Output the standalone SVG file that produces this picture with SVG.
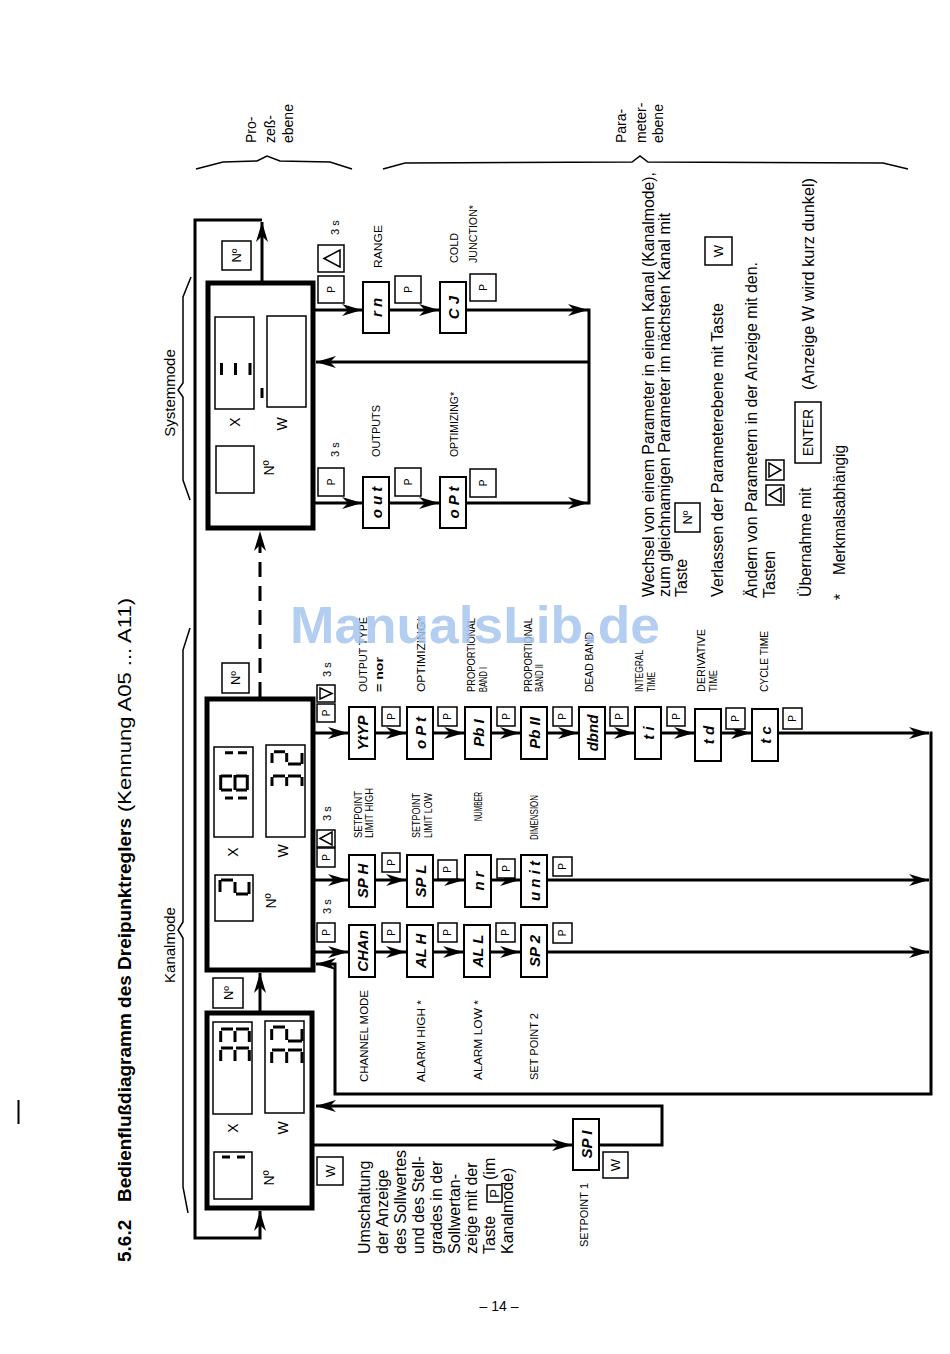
<svg xmlns="http://www.w3.org/2000/svg" width="950" height="1354" viewBox="0 0 950 1354">
<defs>
<style>
text{font-family:"Liberation Sans",Arial,"DejaVu Sans",sans-serif;fill:#000}
.ln{fill:none;stroke:#000;stroke-width:3}
.ar{marker-end:url(#ah)}
.dash{stroke-dasharray:15 9}
.br{fill:none;stroke:#000;stroke-width:1.5}
.disp{fill:#fff;stroke:#000;stroke-width:5}
.win{fill:#fff;stroke:#000;stroke-width:1.5}
.par{fill:#fff;stroke:#000;stroke-width:2}
.key{fill:#fff;stroke:#000;stroke-width:1.5}
.seg{fill:none;stroke:#000;stroke-width:3}
.tri{fill:none;stroke:#000;stroke-width:1.5}
.code{font-size:15px;font-weight:bold;font-style:italic;text-anchor:middle}
.lab{font-size:11px}
.k{font-size:10px;text-anchor:middle}
.kb{font-size:13px;text-anchor:middle}
.dl{font-size:14px;text-anchor:middle}
.body{font-size:16px}
.mode{font-size:15px;text-anchor:middle}
.lvl{font-size:14px}
</style>
<marker id="ah" viewBox="0 0 20 12" refX="20" refY="6" markerWidth="20" markerHeight="12" markerUnits="userSpaceOnUse" orient="auto"><path d="M0,0 L20,6 L0,12 L6,6 Z" fill="#000"/></marker>
</defs>
<rect x="0" y="0" width="950" height="1354" fill="#fff"/>

<!-- title -->
<g id="title">
<text transform="translate(131 1262) rotate(-90)" font-size="19" font-weight="bold">5.6.2</text>
<text transform="translate(131 1202) rotate(-90)" font-size="19" font-weight="bold" textLength="384" lengthAdjust="spacingAndGlyphs">Bedienflußdiagramm des Dreipunktreglers</text>
<text transform="translate(131 812) rotate(-90)" font-size="19" textLength="214" lengthAdjust="spacingAndGlyphs">(Kennung A05 ... A11)</text>
</g>
<line x1="18.5" y1="1100" x2="18.5" y2="1124" stroke="#000" stroke-width="2"/>

<!-- braces and level labels -->
<g id="braces">
<path class="br" d="M196,169 L223,162 L257,161 L267,156 L280,161 L330,162 L352,169"/>
<path class="br" d="M383,169 L405,163 L632,162 L640,156 L648,162 L883,163 L908,169"/>
<path class="br" d="M191,277 L183,297 L183,383 L178,390 L183,397 L183,480 L190,500"/>
<path class="br" d="M190,628 L183,650 L183,922 L178,930 L183,938 L183,1187 L188,1213"/>
<text class="lvl" transform="translate(256 143) rotate(-90)">Pro-</text>
<text class="lvl" transform="translate(275 143) rotate(-90)">zeß-</text>
<text class="lvl" transform="translate(293 143) rotate(-90)">ebene</text>
<text class="lvl" transform="translate(626 143) rotate(-90)">Para-</text>
<text class="lvl" transform="translate(646 143) rotate(-90)">meter-</text>
<text class="lvl" transform="translate(663 143) rotate(-90)">ebene</text>
<text class="mode" transform="translate(175 393) rotate(-90)">Systemmode</text>
<text class="mode" transform="translate(175 945) rotate(-90)">Kanalmode</text>
</g>

<!-- connectors -->
<g id="connectors">
<path class="ln ar" d="M262,220 H195 V1238 H260 V1211"/>
<path class="ln ar" d="M262,281 V222"/>
<path class="ln ar" d="M260,1011 V973"/>
<path class="ln ar dash" d="M260,697 V531"/>
<path class="ln ar" d="M315,310 H362"/>
<path class="ln ar" d="M389,310 H439"/>
<path class="ln ar" d="M466,310 H588"/>
<path class="ln" d="M589,308.5 V504.5"/>
<path class="ln ar" d="M589,362 H316"/>
<path class="ln ar" d="M315,503 H362"/>
<path class="ln ar" d="M389,503 H439"/>
<path class="ln ar" d="M466,503 H588"/>
<path class="ln ar" d="M315,733 H348"/>
<path class="ln ar" d="M375,733 H406"/>
<path class="ln ar" d="M433,733 H464"/>
<path class="ln ar" d="M491,733 H520"/>
<path class="ln ar" d="M547,733 H578"/>
<path class="ln ar" d="M605,733 H634"/>
<path class="ln ar" d="M661,733 H694"/>
<path class="ln ar" d="M721,733 H751"/>
<path class="ln ar" d="M778,733 H929"/>
<path class="ln ar" d="M315,880 H348"/>
<path class="ln ar" d="M375,880 H406"/>
<path class="ln ar" d="M433,880 H464"/>
<path class="ln ar" d="M491,880 H520"/>
<path class="ln ar" d="M547,880 H929"/>
<path class="ln ar" d="M315,952 H348"/>
<path class="ln ar" d="M375,952 H406"/>
<path class="ln ar" d="M433,952 H463"/>
<path class="ln ar" d="M490,952 H520"/>
<path class="ln ar" d="M547,952 H929"/>
<path class="ln ar" d="M931,731.5 V1094 H335 V964 H316"/>
<path class="ln ar" d="M314,1145 H572"/>
<path class="ln ar" d="M599,1145 H662 V1106 H316"/>
</g>

<!-- system display -->
<g id="sys-display">
<rect class="disp" x="208" y="283" width="105" height="245"/>
<rect class="win" x="215" y="317" width="39" height="92"/>
<rect class="win" x="267" y="316" width="39" height="91"/>
<rect class="win" x="216" y="446" width="38" height="47"/>
<path class="seg" stroke-width="3.5" d="M221.5,363V375 M235.5,363V375 M250,363V375 M262,388V398"/>
<text class="dl" transform="translate(240 422) rotate(-90)">X</text>
<text class="dl" transform="translate(287 424) rotate(-90)">W</text>
<text class="dl" transform="translate(274 468) rotate(-90)">Nº</text>
</g>
<g id="key-sys-no"><rect class="key" x="222" y="241" width="29" height="29"/><text class="kb" transform="translate(241 255.5) rotate(-90)">Nº</text></g>

<!-- system row A -->
<g id="key-sys-a-p"><rect class="key" x="318" y="276" width="26" height="27"/><text class="k" transform="translate(334.6 289.5) rotate(-90)">P</text></g>
<g id="key-sys-a-up"><rect class="key" x="318" y="245" width="26" height="27"/><polygon class="tri" points="324,258.5 340,250 340,267"/></g>
<text class="lab" transform="translate(339 235) rotate(-90)">3 s</text>
<g id="p-rn"><rect class="par" x="363" y="282" width="26" height="51"/><text class="code" transform="translate(381.5 307.5) rotate(-90)">r n</text></g>
<text class="lab" transform="translate(382 268) rotate(-90)" textLength="43" lengthAdjust="spacingAndGlyphs">RANGE</text>
<g id="key-rn-p"><rect class="key" x="395" y="276" width="26" height="27"/><text class="k" transform="translate(411.6 289.5) rotate(-90)">P</text></g>
<g id="p-cj"><rect class="par" x="440" y="282" width="26" height="51"/><text class="code" transform="translate(458.5 307.5) rotate(-90)" font-style="normal">C J</text></g>
<text class="lab" transform="translate(458 263) rotate(-90)" textLength="30" lengthAdjust="spacingAndGlyphs">COLD</text>
<text class="lab" transform="translate(477 263) rotate(-90)" textLength="58" lengthAdjust="spacingAndGlyphs">JUNCTION*</text>
<g id="key-cj-p"><rect class="key" x="470" y="274" width="26" height="27"/><text class="k" transform="translate(486.6 287.5) rotate(-90)">P</text></g>

<!-- system row B -->
<g id="key-sys-b-p"><rect class="key" x="318" y="468" width="26" height="28"/><text class="k" transform="translate(334.6 482) rotate(-90)">P</text></g>
<text class="lab" transform="translate(339 457) rotate(-90)">3 s</text>
<g id="p-out"><rect class="par" x="363" y="477" width="26" height="51"/><text class="code" transform="translate(381.5 502.5) rotate(-90)">o u t</text></g>
<text class="lab" transform="translate(380 457) rotate(-90)" textLength="52" lengthAdjust="spacingAndGlyphs">OUTPUTS</text>
<g id="key-out-p"><rect class="key" x="395" y="468" width="26" height="28"/><text class="k" transform="translate(411.6 482) rotate(-90)">P</text></g>
<g id="p-opt-sys"><rect class="par" x="440" y="477" width="26" height="51"/><text class="code" transform="translate(458.5 502.5) rotate(-90)">o P t</text></g>
<text class="lab" transform="translate(458 457) rotate(-90)" textLength="65" lengthAdjust="spacingAndGlyphs">OPTIMIZING*</text>
<g id="key-optsys-p"><rect class="key" x="470" y="469" width="26" height="28"/><text class="k" transform="translate(486.6 483) rotate(-90)">P</text></g>

<!-- channel display 2 -->
<g id="kanal-display">
<rect class="disp" x="207" y="699" width="106" height="271"/>
<rect class="win" x="214" y="747" width="39" height="90"/>
<rect class="win" x="266" y="745" width="39" height="92"/>
<rect class="win" x="215" y="875" width="38" height="46"/>
<path class="seg" d="M225,752.7H233 M238,752.7H247 M220.7,775V790 M235,775V790 M247.3,775V790 M221,776H232 M236,776H247 M221,790H232 M236,790H247 M225,798H233 M238,798H247"/>
<path class="seg" d="M272,753V763 M274,751.7H285 M286.7,753V762 M288,764H301 M302,753V764 M273,776H285 M288,776H301 M272,777V786 M286.7,777V786 M302,777V786"/>
<path class="seg" d="M220,880V892 M221,880H233 M235,882V893 M236,894H248 M249,882V894"/>
<text class="dl" transform="translate(238 852) rotate(-90)">X</text>
<text class="dl" transform="translate(288 851) rotate(-90)">W</text>
<text class="dl" transform="translate(276 901) rotate(-90)">Nº</text>
</g>
<g id="key-k2-no"><rect class="key" x="222" y="663" width="27" height="30"/><text class="kb" transform="translate(240 678) rotate(-90)">Nº</text></g>

<!-- channel display 1 -->
<g id="basic-display">
<rect class="disp" x="207" y="1013" width="105" height="195"/>
<rect class="win" x="213" y="1022" width="39" height="92"/>
<rect class="win" x="265" y="1021" width="39" height="92"/>
<rect class="win" x="214" y="1152" width="38" height="47"/>
<path class="seg" d="M221,1029H233 M236,1029H249 M220.7,1031V1042 M235,1031V1042 M249.3,1031V1042 M221,1048H233 M236,1048H249 M220.7,1050V1061 M235,1050V1061 M249.3,1050V1061"/>
<path class="seg" d="M271.7,1029V1040 M273,1027H285 M286.7,1029V1040 M288,1041H302 M302,1029V1041 M272,1050H285 M288,1050H302 M271.7,1052V1063 M286.7,1052V1063 M302,1052V1063"/>
<path class="seg" d="M222,1157H230 M237,1157H245"/>
<text class="dl" transform="translate(238 1128) rotate(-90)">X</text>
<text class="dl" transform="translate(288 1128) rotate(-90)">W</text>
<text class="dl" transform="translate(274 1178) rotate(-90)">Nº</text>
</g>
<g id="key-k1-no"><rect class="key" x="213" y="978" width="30" height="30"/><text class="kb" transform="translate(232.7 993) rotate(-90)">Nº</text></g>
<g id="key-k1-w"><rect class="key" x="317" y="1157" width="26" height="28"/><text class="kb" transform="translate(334.7 1171) rotate(-90)">W</text></g>

<!-- row 1 (controller parameters) -->
<g id="key-r1-p0"><rect class="key" x="317" y="704" width="18" height="18"/><text class="k" transform="translate(329.6 713) rotate(-90)">P</text></g>
<g id="key-r1-down"><rect class="key" x="317" y="685" width="18" height="17"/><polygon class="tri" points="320,688 320,699 332,693.5"/></g>
<text class="lab" transform="translate(331 677) rotate(-90)">3 s</text>
<g id="p-ytyp"><rect class="par" x="349" y="707" width="26" height="52"/><text class="code" transform="translate(367.5 733) rotate(-90)" font-style="normal">YtYP</text></g>
<text class="lab" transform="translate(367 692) rotate(-90)" textLength="75" lengthAdjust="spacingAndGlyphs">OUTPUT TYPE</text>
<text class="lab" transform="translate(383 692) rotate(-90)" font-weight="bold" textLength="35" lengthAdjust="spacingAndGlyphs">= nor</text>
<g id="key-r1-p1"><rect class="key" x="382" y="707" width="18" height="19"/><text class="k" transform="translate(394.6 716.5) rotate(-90)">P</text></g>
<g id="p-opt"><rect class="par" x="407" y="707" width="26" height="52"/><text class="code" transform="translate(425.5 733) rotate(-90)">o P t</text></g>
<text class="lab" transform="translate(425 692) rotate(-90)" textLength="75" lengthAdjust="spacingAndGlyphs">OPTIMIZING*</text>
<g id="key-r1-p2"><rect class="key" x="438" y="707" width="19" height="19"/><text class="k" transform="translate(451.1 716.5) rotate(-90)">P</text></g>
<g id="p-pb1"><rect class="par" x="465" y="707" width="26" height="52"/><text class="code" transform="translate(483.5 733) rotate(-90)">Pb I</text></g>
<text class="lab" transform="translate(475 692) rotate(-90)" textLength="74" lengthAdjust="spacingAndGlyphs">PROPORTIONAL</text>
<text class="lab" transform="translate(487 692) rotate(-90)" textLength="25" lengthAdjust="spacingAndGlyphs">BAND I</text>
<g id="key-r1-p3"><rect class="key" x="497" y="707" width="18" height="19"/><text class="k" transform="translate(509.6 716.5) rotate(-90)">P</text></g>
<g id="p-pb2"><rect class="par" x="521" y="707" width="26" height="52"/><text class="code" transform="translate(539.5 733) rotate(-90)">Pb II</text></g>
<text class="lab" transform="translate(532 692) rotate(-90)" textLength="74" lengthAdjust="spacingAndGlyphs">PROPORTIONAL</text>
<text class="lab" transform="translate(543 692) rotate(-90)" textLength="28" lengthAdjust="spacingAndGlyphs">BAND II</text>
<g id="key-r1-p4"><rect class="key" x="553" y="707" width="19" height="19"/><text class="k" transform="translate(566.1 716.5) rotate(-90)">P</text></g>
<g id="p-dbnd"><rect class="par" x="579" y="707" width="26" height="52"/><text class="code" transform="translate(597.5 733) rotate(-90)">dbnd</text></g>
<text class="lab" transform="translate(593 692) rotate(-90)" textLength="60" lengthAdjust="spacingAndGlyphs">DEAD BAND</text>
<g id="key-r1-p5"><rect class="key" x="610" y="707" width="18" height="19"/><text class="k" transform="translate(622.6 716.5) rotate(-90)">P</text></g>
<g id="p-ti"><rect class="par" x="635" y="707" width="26" height="52"/><text class="code" transform="translate(653.5 733) rotate(-90)">t i</text></g>
<text class="lab" transform="translate(643 692) rotate(-90)" textLength="42" lengthAdjust="spacingAndGlyphs">INTEGRAL</text>
<text class="lab" transform="translate(655 692) rotate(-90)" textLength="20" lengthAdjust="spacingAndGlyphs">TIME</text>
<g id="key-r1-p6"><rect class="key" x="667" y="707" width="18" height="19"/><text class="k" transform="translate(679.6 716.5) rotate(-90)">P</text></g>
<g id="p-td"><rect class="par" x="695" y="709" width="26" height="52"/><text class="code" transform="translate(713.5 735) rotate(-90)">t d</text></g>
<text class="lab" transform="translate(705 692) rotate(-90)" textLength="63" lengthAdjust="spacingAndGlyphs">DERIVATIVE</text>
<text class="lab" transform="translate(717 692) rotate(-90)" textLength="22" lengthAdjust="spacingAndGlyphs">TIME</text>
<g id="key-r1-p7"><rect class="key" x="726" y="708" width="19" height="21"/><text class="k" transform="translate(739.1 718.5) rotate(-90)">P</text></g>
<g id="p-tc"><rect class="par" x="752" y="709" width="26" height="52"/><text class="code" transform="translate(770.5 735) rotate(-90)">t c</text></g>
<text class="lab" transform="translate(768 692) rotate(-90)" textLength="61" lengthAdjust="spacingAndGlyphs">CYCLE TIME</text>
<g id="key-r1-p8"><rect class="key" x="783" y="708" width="19" height="21"/><text class="k" transform="translate(796.1 718.5) rotate(-90)">P</text></g>

<!-- row 2 (setpoint parameters) -->
<g id="key-r2-p0"><rect class="key" x="317" y="848" width="18" height="19"/><text class="k" transform="translate(329.6 857.5) rotate(-90)">P</text></g>
<g id="key-r2-up"><rect class="key" x="317" y="830" width="18" height="17"/><polygon class="tri" points="320,838.5 332,832 332,845"/></g>
<text class="lab" transform="translate(331 821) rotate(-90)">3 s</text>
<g id="p-sph"><rect class="par" x="349" y="855" width="26" height="52"/><text class="code" transform="translate(367.5 881) rotate(-90)">SP H</text></g>
<text class="lab" transform="translate(362 838) rotate(-90)" textLength="47" lengthAdjust="spacingAndGlyphs">SETPOINT</text>
<text class="lab" transform="translate(373 838) rotate(-90)" textLength="50" lengthAdjust="spacingAndGlyphs">LIMIT HIGH</text>
<g id="key-r2-p1"><rect class="key" x="382" y="853" width="18" height="19"/><text class="k" transform="translate(394.6 862.5) rotate(-90)">P</text></g>
<g id="p-spl"><rect class="par" x="407" y="855" width="26" height="52"/><text class="code" transform="translate(425.5 881) rotate(-90)">SP L</text></g>
<text class="lab" transform="translate(420 838) rotate(-90)" textLength="45" lengthAdjust="spacingAndGlyphs">SETPOINT</text>
<text class="lab" transform="translate(432 838) rotate(-90)" textLength="45" lengthAdjust="spacingAndGlyphs">LIMIT LOW</text>
<g id="key-r2-p2"><rect class="key" x="438" y="860" width="19" height="19"/><text class="k" transform="translate(451.1 869.5) rotate(-90)">P</text></g>
<g id="p-nr"><rect class="par" x="465" y="855" width="26" height="52"/><text class="code" transform="translate(483.5 881) rotate(-90)">n r</text></g>
<text class="lab" transform="translate(482 821) rotate(-90)" textLength="29" lengthAdjust="spacingAndGlyphs">NUMBER</text>
<g id="key-r2-p3"><rect class="key" x="497" y="859" width="18" height="19"/><text class="k" transform="translate(509.6 868.5) rotate(-90)">P</text></g>
<g id="p-unit"><rect class="par" x="521" y="855" width="26" height="52"/><text class="code" transform="translate(539.5 881) rotate(-90)">u n i t</text></g>
<text class="lab" transform="translate(538 840) rotate(-90)" textLength="45" lengthAdjust="spacingAndGlyphs">DIMENSION</text>
<g id="key-r2-p4"><rect class="key" x="553" y="857" width="19" height="19"/><text class="k" transform="translate(566.1 866.5) rotate(-90)">P</text></g>

<!-- row 3 (channel parameters) -->
<g id="key-r3-p0"><rect class="key" x="317" y="923" width="18" height="19"/><text class="k" transform="translate(329.6 932.5) rotate(-90)">P</text></g>
<text class="lab" transform="translate(331 914) rotate(-90)">3 s</text>
<g id="p-chan"><rect class="par" x="349" y="925" width="26" height="52"/><text class="code" transform="translate(367.5 951) rotate(-90)">CHAn</text></g>
<text class="lab" transform="translate(368 1082) rotate(-90)" textLength="92" lengthAdjust="spacingAndGlyphs">CHANNEL MODE</text>
<g id="key-r3-p1"><rect class="key" x="382" y="923" width="18" height="19"/><text class="k" transform="translate(394.6 932.5) rotate(-90)">P</text></g>
<g id="p-alh"><rect class="par" x="407" y="925" width="26" height="52"/><text class="code" transform="translate(425.5 951) rotate(-90)">AL H</text></g>
<text class="lab" transform="translate(425 1082) rotate(-90)" textLength="82" lengthAdjust="spacingAndGlyphs">ALARM HIGH *</text>
<g id="key-r3-p2"><rect class="key" x="438" y="923" width="19" height="19"/><text class="k" transform="translate(451.1 932.5) rotate(-90)">P</text></g>
<g id="p-all"><rect class="par" x="464" y="925" width="26" height="52"/><text class="code" transform="translate(482.5 951) rotate(-90)">AL L</text></g>
<text class="lab" transform="translate(482 1080) rotate(-90)" textLength="80" lengthAdjust="spacingAndGlyphs">ALARM LOW *</text>
<g id="key-r3-p3"><rect class="key" x="496" y="923" width="19" height="19"/><text class="k" transform="translate(509.1 932.5) rotate(-90)">P</text></g>
<g id="p-sp2"><rect class="par" x="521" y="925" width="26" height="52"/><text class="code" transform="translate(539.5 951) rotate(-90)">SP 2</text></g>
<text class="lab" transform="translate(538 1080) rotate(-90)" textLength="67" lengthAdjust="spacingAndGlyphs">SET POINT 2</text>
<g id="key-r3-p4"><rect class="key" x="553" y="923" width="19" height="20"/><text class="k" transform="translate(566.1 933) rotate(-90)">P</text></g>

<!-- setpoint 1 -->
<g id="p-sp1"><rect class="par" x="573" y="1119" width="26" height="51"/><text class="code" transform="translate(591.5 1144.5) rotate(-90)">SP I</text></g>
<g id="key-sp1-w"><rect class="key" x="603" y="1152" width="25" height="26"/><text class="kb" transform="translate(620.2 1165) rotate(-90)">W</text></g>
<text class="lab" transform="translate(588 1247) rotate(-90)" textLength="64" lengthAdjust="spacingAndGlyphs">SETPOINT 1</text>

<!-- Umschaltung note -->
<g id="note-umschaltung">
<text class="body" transform="translate(370 1254) rotate(-90)">Umschaltung</text>
<text class="body" transform="translate(388 1254) rotate(-90)">der Anzeige</text>
<text class="body" transform="translate(406 1254) rotate(-90)">des Sollwertes</text>
<text class="body" transform="translate(424 1254) rotate(-90)">und des Stell-</text>
<text class="body" transform="translate(442 1254) rotate(-90)">grades in der</text>
<text class="body" transform="translate(460 1254) rotate(-90)">Sollwertan-</text>
<text class="body" transform="translate(477 1254) rotate(-90)">zeige mit der</text>
<text class="body" transform="translate(495 1254) rotate(-90)">Taste</text>
<rect class="key" x="487" y="1185" width="15" height="17"/>
<text class="kb" transform="translate(499 1193.5) rotate(-90)">P</text>
<text class="body" transform="translate(495 1180) rotate(-90)">(im</text>
<text class="body" transform="translate(513 1254) rotate(-90)">Kanalmode)</text>
</g>

<!-- legend -->
<g id="legend">
<text class="body" transform="translate(654 597) rotate(-90)" textLength="425" lengthAdjust="spacingAndGlyphs">Wechsel von einem Parameter in einem Kanal (Kanalmode),</text>
<text class="body" transform="translate(670 597) rotate(-90)" textLength="384" lengthAdjust="spacingAndGlyphs">zum gleichnamigen Parameter im nächsten Kanal mit</text>
<text class="body" transform="translate(687 597) rotate(-90)">Taste</text>
<rect class="key" x="675" y="503" width="25" height="29"/>
<text class="kb" transform="translate(692 517.5) rotate(-90)">Nº</text>
<text class="body" transform="translate(723 597) rotate(-90)" textLength="294" lengthAdjust="spacingAndGlyphs">Verlassen der Parameterebene mit Taste</text>
<rect class="key" x="705" y="237" width="27" height="28"/>
<text class="kb" transform="translate(723 251) rotate(-90)">W</text>
<text class="body" transform="translate(757 598) rotate(-90)" textLength="336" lengthAdjust="spacingAndGlyphs">Ändern von Parametern in der Anzeige mit den.</text>
<text class="body" transform="translate(775 598) rotate(-90)">Tasten</text>
<rect class="key" x="766" y="485" width="18" height="20"/>
<polygon class="tri" points="769,495 781,488 781,502"/>
<rect class="key" x="766" y="460" width="18" height="20"/>
<polygon class="tri" points="769,463 769,477 781,470"/>
<text class="body" transform="translate(811 597) rotate(-90)">Übernahme mit</text>
<rect class="key" x="795" y="402" width="26" height="61"/>
<text class="dl" transform="translate(813 432.5) rotate(-90)">ENTER</text>
<text class="body" transform="translate(814 390) rotate(-90)" textLength="212" lengthAdjust="spacingAndGlyphs">(Anzeige W wird kurz dunkel)</text>
<text class="body" transform="translate(846 600) rotate(-90)">*</text>
<text class="body" transform="translate(845 575) rotate(-90)" textLength="130" lengthAdjust="spacingAndGlyphs">Merkmalsabhängig</text>
</g>

<text x="499" y="1311" font-size="14" text-anchor="middle">– 14 –</text>

<text x="290" y="643" font-size="52" font-weight="bold" fill="#a8c6f0" opacity="0.85" textLength="370" lengthAdjust="spacingAndGlyphs" style="fill:#a8c6f0">ManualsLib.de</text>
</svg>
